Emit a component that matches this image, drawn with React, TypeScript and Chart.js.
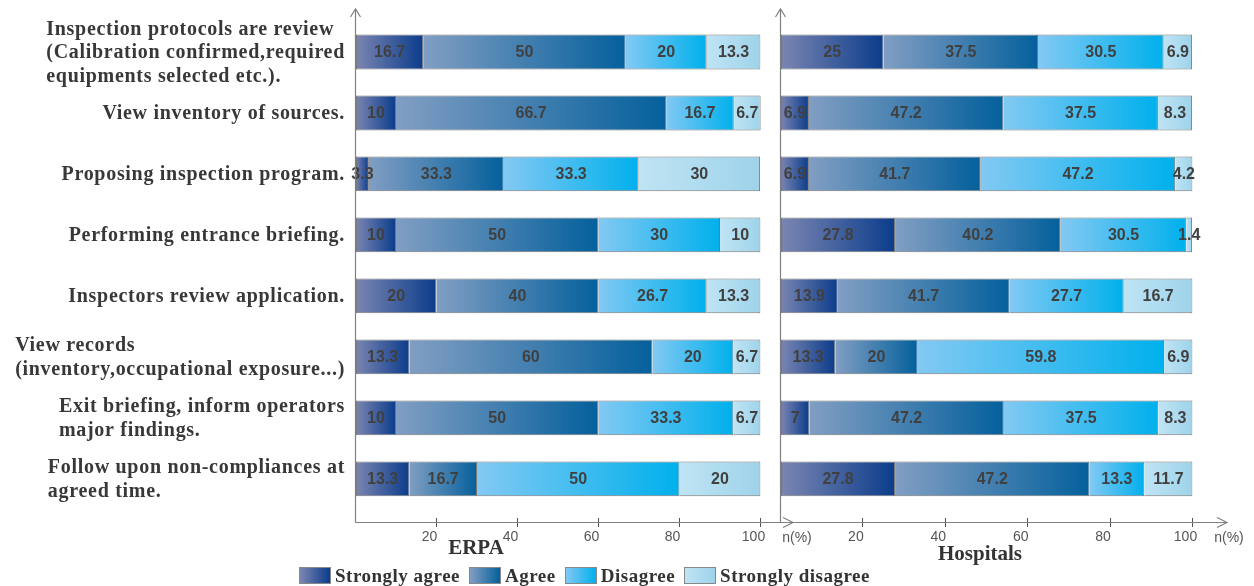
import React, { useEffect, useRef } from 'react';
import { Chart, registerables } from 'chart.js';

Chart.register(...registerables);

// ---------- data ----------
const categories: string[][] = [
  ['Inspection protocols are review', '(Calibration confirmed,required', 'equipments selected etc.).'],
  ['View inventory of sources.'],
  ['Proposing inspection program.'],
  ['Performing entrance briefing.'],
  ['Inspectors review application.'],
  ['View records', '(inventory,occupational exposure...)'],
  ['Exit briefing, inform operators', 'major findings.'],
  ['Follow upon non-compliances at', 'agreed time.'],
];

const seriesNames = ['Strongly agree', 'Agree', 'Disagree', 'Strongly disagree'];

const erpaStronglyAgree = [16.7, 10, 3.3, 10, 20, 13.3, 10, 13.3];
const erpaAgree = [50, 66.7, 33.3, 50, 40, 60, 50, 16.7];
const erpaDisagree = [20, 16.7, 33.3, 30, 26.7, 20, 33.3, 50];
const erpaStronglyDisagree = [13.3, 6.7, 30, 10, 13.3, 6.7, 6.7, 20];

const hospStronglyAgree = [25, 6.9, 6.9, 27.8, 13.9, 13.3, 7, 27.8];
const hospAgree = [37.5, 47.2, 41.7, 40.2, 41.7, 20, 47.2, 47.2];
const hospDisagree = [30.5, 37.5, 47.2, 30.5, 27.7, 59.8, 37.5, 13.3];
const hospStronglyDisagree = [6.9, 8.3, 4.2, 1.4, 16.7, 6.9, 8.3, 11.7];

const xTickValues = [0, 20, 40, 60, 80, 100];
const xUnitLabel = 'n(%)';
const panelTitles = ['ERPA', 'Hospitals'];

// ---------- styles ----------
const gradColors: [string, string][] = [
  ['#7b86b2', '#0b3c8b'],
  ['#819ec3', '#04609c'],
  ['#82c9f3', '#00b0ec'],
  ['#bfe4f4', '#9ed3ea'],
];
const AXIS_COLOR = '#808080';
const TICK_FONT = '"Liberation Sans Narrow", "Arial Narrow", "Liberation Sans", Arial, sans-serif';
const SERIF = '"Liberation Serif", "Times New Roman", serif';
const Y_MIN = -0.705;
const Y_MAX = 7.64;

const decoPlugin = {
  id: 'deco',
  afterDatasetsDraw(chart: any, _args: any, o: any) {
    const ctx = chart.ctx;
    ctx.save();
    ctx.font = 'bold 16px "Liberation Sans", Arial, sans-serif';
    ctx.fillStyle = '#404040';
    ctx.textAlign = 'center';
    ctx.textBaseline = 'middle';
    const series: number[][] = o.series;
    series.forEach((vals, d) => {
      const meta = chart.getDatasetMeta(d);
      meta.data.forEach((el: any, i: number) => {
        const p = el.getCenterPoint();
        ctx.fillText(String(vals[i]), p.x, p.y + 1);
      });
    });
    ctx.restore();
  },
  afterDraw(chart: any, _args: any, o: any) {
    const ctx = chart.ctx;
    const { left, right, top, bottom } = chart.chartArea;
    const axisY = bottom + 4.5;
    ctx.save();
    ctx.strokeStyle = AXIS_COLOR;
    ctx.lineWidth = 1.2;
    // y axis with arrow
    ctx.beginPath();
    ctx.moveTo(left, top);
    ctx.lineTo(left, axisY);
    ctx.stroke();
    ctx.beginPath();
    ctx.moveTo(left - 5, top + 8);
    ctx.lineTo(left, top);
    ctx.lineTo(left + 5, top + 8);
    ctx.stroke();
    // x axis with arrow
    const tip = right + o.arrowExt;
    ctx.beginPath();
    ctx.moveTo(left, axisY);
    ctx.lineTo(tip, axisY);
    ctx.stroke();
    ctx.beginPath();
    ctx.moveTo(tip - 10, axisY - 5);
    ctx.lineTo(tip, axisY);
    ctx.lineTo(tip - 10, axisY + 5);
    ctx.stroke();
    // unit label
    ctx.fillStyle = '#555';
    ctx.font = '14px ' + TICK_FONT;
    ctx.textAlign = 'center';
    ctx.textBaseline = 'middle';
    ctx.fillText(xUnitLabel, right + 36.5, 538);
    // panel title
    ctx.fillStyle = '#333';
    ctx.font = 'bold 21px ' + SERIF;
    ctx.fillText(o.title, o.titleX, o.titleY);
    // category labels
    if (o.drawLabels) {
      const ys = chart.scales.y;
      ctx.font = 'bold 20px ' + SERIF;
      (ctx as any).letterSpacing = '0.7px';
      ctx.fillStyle = '#383838';
      ctx.textAlign = 'left';
      const lh = 23.5;
      const rightEdge = left - 10.5;
      categories.forEach((lines, i) => {
        const cy = ys.getPixelForValue(i);
        const w = Math.max(...lines.map((l) => ctx.measureText(l).width));
        const x0 = rightEdge - w;
        lines.forEach((l, k) => {
          ctx.fillText(l, x0, cy + (k - (lines.length - 1) / 2) * lh + 1);
        });
      });
    }
    ctx.restore();
  },
};

function makeChart(canvas: HTMLCanvasElement, series: number[][], o: any) {
  const datasets = series.map((vals, d) => ({
    label: seriesNames[d],
    stack: 's',
    data: vals.map((v, i) => ({ x: v, y: i })),
    borderColor: '#777',
    borderWidth: { top: 1, bottom: 1, right: 1, left: d === 0 ? 1 : 0 },
    borderSkipped: false,
    backgroundColor: (c: any) => {
      const chart = c.chart;
      const xs = chart.scales && chart.scales.x;
      if (!chart.chartArea || !xs || c.dataIndex === undefined) return gradColors[d][1];
      let start = 0;
      for (let k = 0; k < d; k++) start += series[k][c.dataIndex];
      const end = start + series[d][c.dataIndex];
      const x0 = xs.getPixelForValue(start);
      const x1 = xs.getPixelForValue(end);
      if (!isFinite(x0) || !isFinite(x1) || x1 - x0 < 0.5) return gradColors[d][1];
      const g = chart.ctx.createLinearGradient(x0, 0, x1, 0);
      g.addColorStop(0, gradColors[d][0]);
      g.addColorStop(1, gradColors[d][1]);
      return g;
    },
    barPercentage: 0.57,
    categoryPercentage: 1,
  }));
  return new Chart(canvas, {
    type: 'bar',
    data: { datasets } as any,
    plugins: [decoPlugin as any],
    options: {
      indexAxis: 'y',
      animation: false,
      responsive: false,
      events: [],
      layout: { padding: { top: 9, right: o.padRight, left: 0, bottom: 0 } },
      plugins: {
        legend: { display: false },
        tooltip: { enabled: false },
        deco: { series, arrowExt: o.arrowExt, title: o.title, titleX: o.titleX, titleY: o.titleY, drawLabels: o.drawLabels },
      } as any,
      scales: {
        x: {
          type: 'linear',
          min: 0,
          max: 100,
          stacked: true,
          offset: false,
          position: 'bottom',
          afterBuildTicks: (s: any) => {
            s.ticks = xTickValues.map((v) => ({ value: v }));
          },
          afterFit: (s: any) => {
            s.height = 68;
          },
          border: { display: false },
          grid: {
            drawOnChartArea: false,
            drawTicks: true,
            offset: false,
            tickLength: 9,
            lineWidth: 1,
            color: (c: any) => (c.tick && c.tick.value === 0 ? 'rgba(0,0,0,0)' : '#555'),
          },
          ticks: {
            labelOffset: -7,
            padding: 2,
            color: '#555',
            autoSkip: false,
            maxRotation: 0,
            font: { family: TICK_FONT, size: 14 },
            callback: (v: any) => (v === 0 ? '' : String(v)),
          },
        },
        y: {
          type: 'linear',
          reverse: true,
          offset: false,
          bounds: 'data',
          min: Y_MIN,
          max: Y_MAX,
          afterBuildTicks: (s: any) => {
            s.ticks = categories.map((_, i) => ({ value: i }));
            s.min = Y_MIN;
            s.max = Y_MAX;
          },
          afterFit: (s: any) => {
            s.width = o.yWidth;
          },
          grid: { display: false, offset: false },
          border: { display: false },
          ticks: { display: false },
        },
      } as any,
    },
  });
}

export default function App() {
  const leftRef = useRef<HTMLCanvasElement>(null);
  const rightRef = useRef<HTMLCanvasElement>(null);

  useEffect(() => {
    const c1 = makeChart(
      leftRef.current!,
      [erpaStronglyAgree, erpaAgree, erpaDisagree, erpaStronglyDisagree],
      { padRight: 59.5, yWidth: 355.5, arrowExt: 32.5, title: panelTitles[0], titleX: 476, titleY: 549, drawLabels: true }
    );
    const c2 = makeChart(
      rightRef.current!,
      [hospStronglyAgree, hospAgree, hospDisagree, hospStronglyDisagree],
      { padRight: 61.5, yWidth: 10.5, arrowExt: 34.5, title: panelTitles[1], titleX: 210, titleY: 555, drawLabels: false }
    );
    return () => {
      c1.destroy();
      c2.destroy();
    };
  }, []);

  return (
    <div style={{ position: 'fixed', left: 0, top: 0, width: 1254, height: 586, background: '#fff', overflow: 'hidden' }}>
      <canvas ref={leftRef} width={820} height={586} style={{ position: 'absolute', left: 0, top: 0, width: 820, height: 586 }} />
      <canvas ref={rightRef} width={484} height={586} style={{ position: 'absolute', left: 770, top: 0, width: 484, height: 586 }} />
      <div
        style={{
          position: 'absolute',
          left: 299,
          top: 566,
          height: 19,
          display: 'flex',
          alignItems: 'center',
          font: 'bold 19px ' + SERIF,
          letterSpacing: '0.5px',
          lineHeight: '19px',
          color: '#333',
          whiteSpace: 'nowrap',
        }}
      >
        {seriesNames.map((n, i) => (
          <div key={n} style={{ display: 'flex', alignItems: 'center', marginRight: 9 }}>
            <span
              style={{
                display: 'inline-block',
                width: 32,
                height: 17,
                boxSizing: 'border-box',
                border: '1px solid #888',
                background: `linear-gradient(to right, ${gradColors[i][0]}, ${gradColors[i][1]})`,
                marginRight: 4,
              }}
            />
            <span>{n}</span>
          </div>
        ))}
      </div>
    </div>
  );
}
